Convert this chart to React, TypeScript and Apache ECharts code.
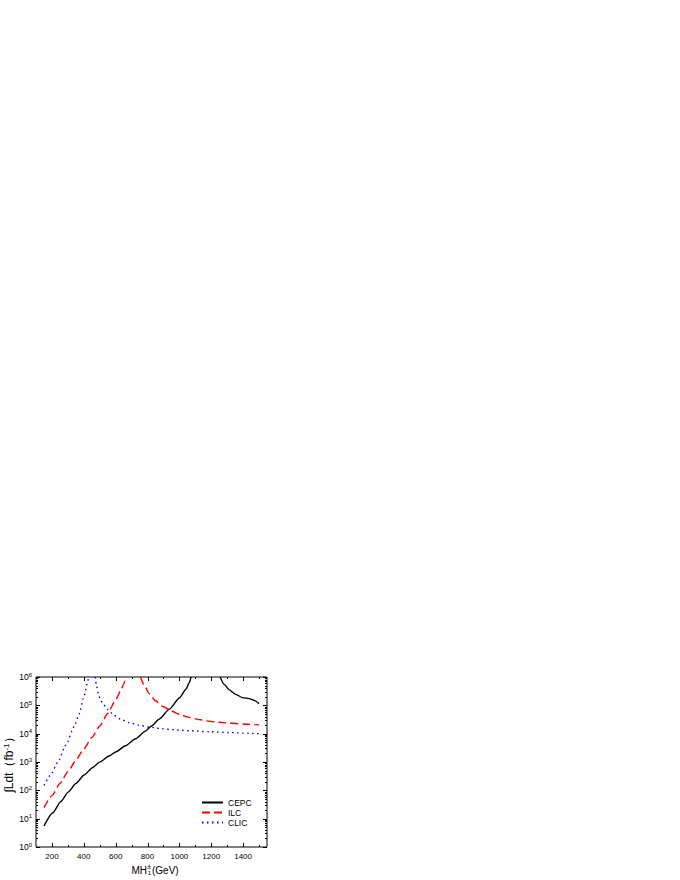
import React, { useEffect, useRef } from "react";
import * as echarts from "echarts";

// ---- data (x in GeV, y in fb^-1) ----
const cepcLeftX = [150, 204, 256, 302, 350, 402, 454, 502, 558, 600, 662, 725, 787, 825, 875, 937, 1000, 1041, 1062, 1073];
const cepcLeftY = [5.5, 15.8, 40.3, 86.3, 175, 346, 630, 1012, 1630, 2265, 3733, 6577, 12330, 18620, 33110, 73620, 181100, 368000, 627000, 1000000];
const cepcRightX = [1256, 1281, 1313, 1354, 1396, 1437, 1469, 1500];
const cepcRightY = [1000000, 550000, 350000, 243000, 187000, 173000, 150000, 115000];

const ilcLeftX = [150, 200, 250, 300, 350, 400, 450, 500, 550, 600, 630, 650, 662];
const ilcLeftY = [24.5, 65.3, 174, 452, 1148, 2884, 7244, 18620, 51290, 154900, 316200, 549500, 1000000];
const ilcRightX = [756, 780, 810, 850, 900, 950, 1000, 1062, 1125, 1187, 1250, 1312, 1400, 1500];
const ilcRightY = [1000000, 501200, 263000, 144500, 89130, 63100, 48420, 37580, 31260, 27540, 25410, 23710, 21880, 20420];

const clicLeftX = [150, 194, 235, 287, 340, 371, 402, 423, 430];
const clicLeftY = [150, 360, 950, 3900, 17800, 50000, 215000, 630000, 1000000];
const clicRightX = [472, 480, 492, 505, 517, 548, 590, 631, 683, 746, 812, 875, 937, 1000, 1062, 1187, 1312, 1437, 1500];
const clicRightY = [1000000, 478600, 239900, 158500, 120200, 72440, 44670, 32360, 24550, 19950, 17180, 15310, 14130, 13340, 12740, 11750, 10960, 10280, 10000];

const seriesNames = ["CEPC", "ILC", "CLIC"];

// tick positions
const xMajorTicks = [200, 400, 600, 800, 1000, 1200, 1400];
const xMinorTicks = [300, 500, 700, 900, 1100, 1300, 1500];
const yDecades = [1, 10, 100, 1000, 10000, 100000, 1000000];
const yMinorMultipliers = [2, 3, 4, 5, 6, 7, 8, 9];

const FONT = "'Liberation Sans', Arial, sans-serif";

function pairs(xs: number[], ys: number[]) {
  return xs.map((x, i) => [x, ys[i]]);
}
function joined(ax: number[], ay: number[], bx: number[], by: number[]) {
  const gapX = (ax[ax.length - 1] + bx[0]) / 2;
  return [...pairs(ax, ay), [gapX, "-"], ...pairs(bx, by)];
}

export default function App() {
  const ref = useRef<HTMLDivElement>(null);

  useEffect(() => {
    if (!ref.current) return;
    const chart = echarts.init(ref.current, undefined, { renderer: "svg" });

    const yMinorTicks: number[] = [];
    for (let d = 0; d < yDecades.length - 1; d++) {
      for (const m of yMinorMultipliers) yMinorTicks.push(m * yDecades[d]);
    }

    const lineCommon = {
      type: "line",
      showSymbol: false,
      symbol: "none",
      smooth: 0.2,
      smoothMonotone: "x",
      connectNulls: false,
      clip: true,
    };

    const option: any = {
      animation: false,
      backgroundColor: "#fff",
      grid: {
        left: 36,
        top: 677,
        width: 231,
        height: 170,
        show: true,
        borderColor: "#000",
        borderWidth: 1,
        backgroundColor: "transparent",
        containLabel: false,
        outerBoundsMode: "none",
      },
      legend: {
        data: seriesNames,
        orient: "vertical",
        left: 201,
        top: 798,
        padding: 0,
        itemWidth: 21,
        itemHeight: 10,
        itemGap: 1,
        itemStyle: { opacity: 0, borderWidth: 0 },
        textStyle: { fontSize: 8.5, fontFamily: FONT, color: "#000" },
      },
      xAxis: {
        type: "value",
        min: 100,
        max: 1550,
        interval: 100,
        axisLine: { show: false },
        axisTick: { show: false },
        splitLine: { show: false },
        axisLabel: {
          margin: 5,
          fontSize: 8,
          fontFamily: FONT,
          color: "#000",
          formatter: (v: number) => (v % 200 === 0 ? String(v) : ""),
        },
      },
      yAxis: {
        type: "log",
        logBase: 10,
        min: 1,
        max: 1000000,
        axisLine: { show: false },
        axisTick: { show: false },
        splitLine: { show: false },
        minorTick: { show: false },
        axisLabel: {
          margin: 4,
          formatter: (v: number) => `{b|10}{s|${Math.round(Math.log10(v))}}`,
          rich: {
            b: { fontSize: 8.5, fontFamily: FONT, color: "#000" },
            s: { fontSize: 6, fontFamily: FONT, color: "#000", verticalAlign: "bottom", padding: [0, 0, 5, 0] },
          },
        },
        name: "{a|∫Ldt（fb}{s|-1}{a|）}",
        nameLocation: "middle",
        nameRotate: 90,
        nameGap: 17,
        nameTextStyle: {
          rich: {
            a: { fontSize: 12, fontFamily: FONT, color: "#000" },
            s: { fontSize: 8, fontFamily: FONT, color: "#000", verticalAlign: "bottom", padding: [0, 0, 6, 0] },
          },
        },
      },
      graphic: [
        {
          type: "group",
          children: [
            { type: "text", x: 131.5, y: 870, style: { text: "MH", fontSize: 10, fontFamily: FONT, fill: "#000", verticalAlign: "middle", align: "left" } },
            { type: "text", x: 147.3, y: 866, style: { text: "±", fontSize: 7, fontFamily: FONT, fill: "#000", verticalAlign: "middle", align: "left" } },
            { type: "text", x: 147.8, y: 873, style: { text: "1", fontSize: 6, fontFamily: FONT, fill: "#000", verticalAlign: "middle", align: "left" } },
            { type: "text", x: 152, y: 870, style: { text: "(GeV)", fontSize: 10, fontFamily: FONT, fill: "#000", verticalAlign: "middle", align: "left" } },
          ],
        },
      ],
      series: [
        {
          ...lineCommon,
          name: "CEPC",
          data: joined(cepcLeftX, cepcLeftY, cepcRightX, cepcRightY),
          lineStyle: { color: "#000", width: 1.4, type: "solid" },
          itemStyle: { color: "#000" },
        },
        {
          ...lineCommon,
          name: "ILC",
          data: joined(ilcLeftX, ilcLeftY, ilcRightX, ilcRightY),
          lineStyle: { color: "#ff0000", width: 1.4, type: [8, 4] },
          itemStyle: { color: "#ff0000" },
        },
        {
          ...lineCommon,
          name: "CLIC",
          data: joined(clicLeftX, clicLeftY, clicRightX, clicRightY),
          lineStyle: { color: "#0000ff", width: 1.4, type: [1.5, 3.5] },
          itemStyle: { color: "#0000ff" },
        },
        {
          name: "ticks",
          type: "custom",
          silent: true,
          data: [[100, 1]],
          renderItem: (params: any, api: any) => {
            const cs = params.coordSys;
            const top = cs.y;
            const bottom = cs.y + cs.height;
            const left = cs.x;
            const right = cs.x + cs.width;
            const style = { stroke: "#000", lineWidth: 1 };
            const children: any[] = [];
            const addX = (v: number, len: number) => {
              const x = Math.round(api.coord([v, 1])[0]) + 0.5;
              children.push({ type: "line", shape: { x1: x, y1: bottom, x2: x, y2: bottom - len }, style });
              children.push({ type: "line", shape: { x1: x, y1: top, x2: x, y2: top + len }, style });
            };
            const addY = (v: number, len: number) => {
              const y = Math.round(api.coord([100, v])[1]) + 0.5;
              children.push({ type: "line", shape: { x1: left, y1: y, x2: left + len, y2: y }, style });
              children.push({ type: "line", shape: { x1: right, y1: y, x2: right - len, y2: y }, style });
            };
            xMajorTicks.forEach((v) => addX(v, 4));
            xMinorTicks.forEach((v) => addX(v, 2));
            yDecades.forEach((v) => addY(v, 4));
            yMinorTicks.forEach((v) => addY(v, 2));
            return { type: "group", children };
          },
        },
      ],
    };

    chart.setOption(option);
    return () => chart.dispose();
  }, []);

  return (
    <div
      ref={ref}
      style={{ position: "absolute", left: 0, top: 0, width: 680, height: 880 }}
    />
  );
}
